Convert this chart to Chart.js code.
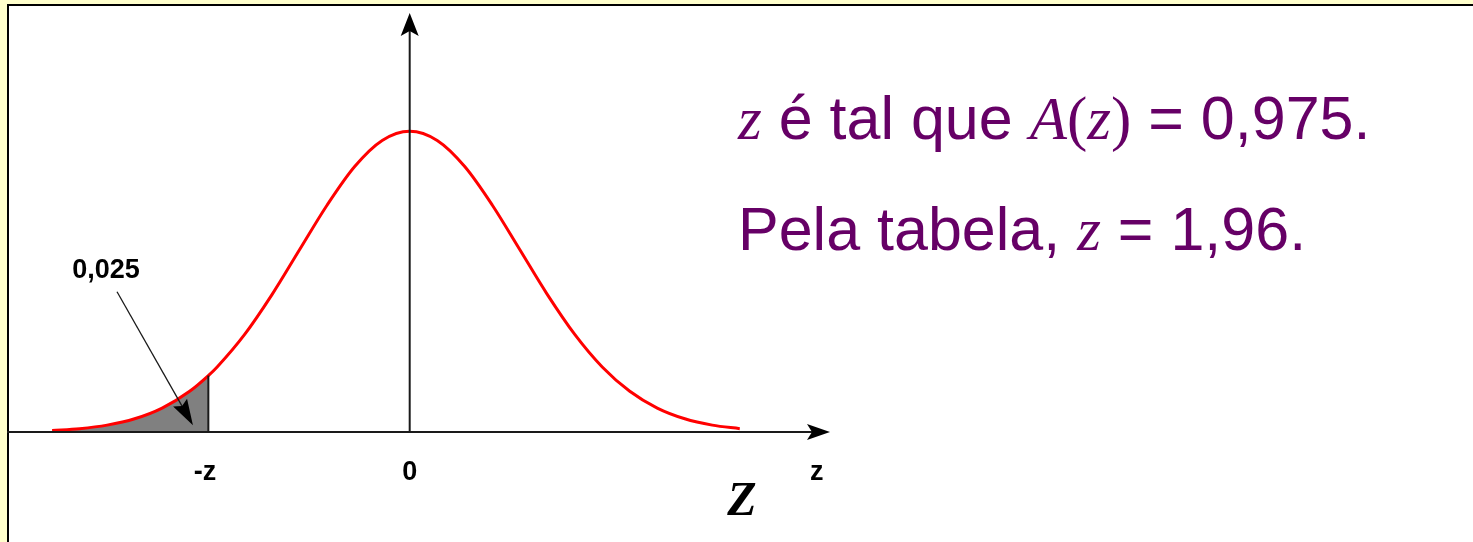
<!DOCTYPE html>
<html><head><meta charset="utf-8">
<script src="https://cdn.jsdelivr.net/npm/chart.js@4.4.1/dist/chart.umd.min.js"></script>
<style>
html,body{margin:0;padding:0;background:#ffffcc;width:1473px;height:542px;overflow:hidden;}
#frame{position:absolute;left:7px;top:4px;right:0;bottom:0;background:#fff;border-left:2px solid #000;border-top:2px solid #000;}
#wrap{position:absolute;left:0;top:0;width:1473px;height:542px;}
.txt{position:absolute;left:738px;font-family:"Liberation Sans",Arial,sans-serif;font-size:61px;line-height:61px;color:#660066;white-space:nowrap;}
.m{font-family:"Liberation Serif","Times New Roman",serif;font-style:italic;}
.p{font-family:"Liberation Serif","Times New Roman",serif;}
</style>
</head>
<body>
<div id="frame"></div>
<div id="wrap"><canvas id="c" width="1473" height="542"></canvas></div>
<div class="txt" style="top:88px"><span class="m">z</span> é tal que <span class="m">A</span><span class="p">(</span><span class="m">z</span><span class="p">)</span> = 0,975.</div>
<div class="txt" style="top:199px">Pela tabela, <span class="m">z</span> = 1,96.</div>
<script>
// z values along the horizontal axis and the curve height
const zValues = [-3.25,-3,-2.75,-2.5,-2.25,-2,-1.83,-1.75,-1.5,-1.25,-1,-0.75,-0.5,-0.25,0,0.25,0.5,0.75,1,1.25,1.5,1.75,2,2.25,2.5,2.75,3];
const density = [0.002,0.0044,0.0091,0.0175,0.0317,0.054,0.0748,0.0863,0.1295,0.1826,0.242,0.3011,0.3521,0.3867,0.3989,0.3867,0.3521,0.3011,0.242,0.1826,0.1295,0.0863,0.054,0.0317,0.0175,0.0091,0.0044];
const zCritical = -1.83;            // the "-z" cut point (shaded tail to its left)
const tailAreaLabel = '0,025';
const tickLabels = ['-z', '0', 'z'];
const tickValues = [-1.86, 0, 3.70];
const axisTitle = 'Z';

const curvePts = zValues.map((v,i)=>({x:v, y:density[i]}));
const tailPts = curvePts.filter(p => p.x <= zCritical);

function arrowHead(ctx, tx, ty, ang, len, hw, notch){
  const c = Math.cos(ang), s = Math.sin(ang);
  const bx = tx - c*len, by = ty - s*len;
  const nx = tx - c*(len-notch), ny = ty - s*(len-notch);
  ctx.beginPath();
  ctx.moveTo(tx, ty);
  ctx.lineTo(bx - s*hw, by + c*hw);
  ctx.lineTo(nx, ny);
  ctx.lineTo(bx + s*hw, by - c*hw);
  ctx.closePath();
  ctx.fill();
}

const annot = {
  id: 'annot',
  afterDatasetsDraw(chart){
    const {ctx, scales:{x, y}} = chart;
    const x0 = x.getPixelForValue(0), y0 = y.getPixelForValue(0);
    ctx.save();
    ctx.strokeStyle = '#1a1a1a'; ctx.fillStyle = '#000'; ctx.lineWidth = 2;
    // horizontal axis
    ctx.beginPath(); ctx.moveTo(x.left, y0); ctx.lineTo(x.right - 8, y0); ctx.stroke();
    arrowHead(ctx, x.right, y0, 0, 23, 8, 5);
    // vertical axis
    ctx.beginPath(); ctx.moveTo(x0, y0); ctx.lineTo(x0, y.top + 8); ctx.stroke();
    arrowHead(ctx, x0, y.top, -Math.PI/2, 23, 9, 5);
    // -z boundary
    const xc = x.getPixelForValue(zCritical);
    const yc = y.getPixelForValue(density[zValues.indexOf(zCritical)]);
    ctx.beginPath(); ctx.moveTo(xc, y0); ctx.lineTo(xc, yc); ctx.stroke();
    // pointer arrow from the area label
    const sx = x.getPixelForValue(-2.66), sy = y.getPixelForValue(0.186);
    const ex = x.getPixelForValue(-1.97), ey = y.getPixelForValue(0.009);
    const ang = Math.atan2(ey - sy, ex - sx);
    ctx.lineWidth = 1.3;
    ctx.beginPath(); ctx.moveTo(sx, sy); ctx.lineTo(ex - Math.cos(ang)*18, ey - Math.sin(ang)*18); ctx.stroke();
    arrowHead(ctx, ex, ey, ang, 26, 8, 4);
    // texts
    ctx.fillStyle = '#000';
    ctx.textAlign = 'center'; ctx.textBaseline = 'alphabetic';
    ctx.font = 'bold 27px "Liberation Sans", Arial, sans-serif';
    tickLabels.forEach((t,i)=>{ ctx.fillText(t, x.getPixelForValue(tickValues[i]), y0 + 48); });
    ctx.fillText(tailAreaLabel, x.getPixelForValue(-2.76), y.getPixelForValue(0.204));
    ctx.font = 'italic bold 48px "Liberation Serif", "Times New Roman", serif';
    ctx.fillText(axisTitle, x.getPixelForValue(3.02), y0 + 83);
    ctx.restore();
  }
};

new Chart(document.getElementById('c'), {
  type: 'line',
  data: {
    datasets: [
      { data: curvePts, borderColor: '#ff0000', borderWidth: 3, pointRadius: 0, fill: false, cubicInterpolationMode: 'monotone', clip: false },
      { data: tailPts, borderWidth: 0, borderColor: 'rgba(0,0,0,0)', backgroundColor: '#808080', pointRadius: 0, fill: 'origin', cubicInterpolationMode: 'monotone' }
    ]
  },
  options: {
    responsive: false,
    animation: false,
    events: [],
    layout: { padding: { left: 7, right: 643, top: 13, bottom: 110 } },
    plugins: { legend: { display: false }, tooltip: { enabled: false } },
    scales: {
      x: { type: 'linear', min: -3.66, max: 3.82, display: false },
      y: { type: 'linear', min: 0, max: 0.5557, display: false }
    }
  },
  plugins: [annot]
});
</script>
</body></html>
